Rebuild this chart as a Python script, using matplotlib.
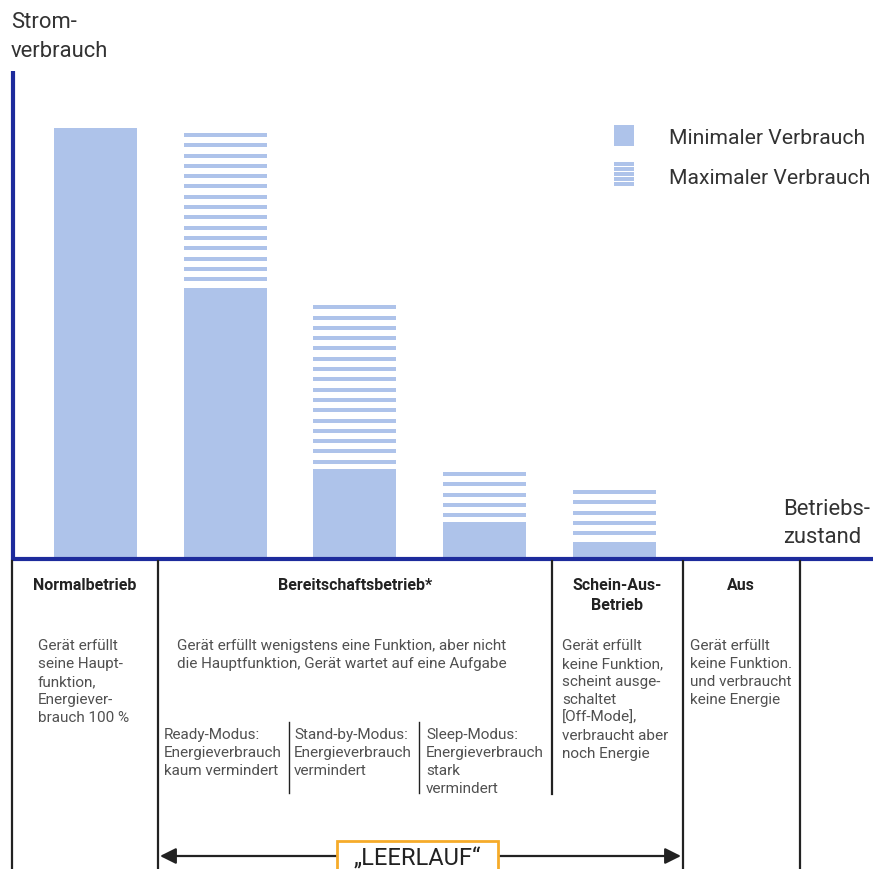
import numpy as np
import matplotlib
matplotlib.use("Agg")
import matplotlib.pyplot as plt
from matplotlib.patches import Rectangle

plt.rcParams['font.family'] = ['Roboto', 'DejaVu Sans']

# Stromverbrauch je Betriebszustand (0..100 = Hoehe der y-Achse)
states   = ["Normalbetrieb", "Ready-Modus", "Stand-by-Modus", "Sleep-Modus", "Schein-Aus"]
min_use  = [88.3, 55.5, 18.4, 7.6, 3.5]
max_use  = [88.3, 87.3, 52.0, 17.8, 14.1]

legend_labels = ["Minimaler Verbrauch", "Maximaler Verbrauch"]

headers = ["Normalbetrieb", "Bereitschaftsbetrieb*", "Schein-Aus-\nBetrieb", "Aus"]
descriptions = [
    "Gerät erfüllt\nseine Haupt-\nfunktion,\nEnergiever-\nbrauch 100 %",
    "Gerät erfüllt wenigstens eine Funktion, aber nicht\ndie Hauptfunktion, Gerät wartet auf eine Aufgabe",
    "Gerät erfüllt\nkeine Funktion,\nscheint ausge-\nschaltet\n[Off-Mode],\nverbraucht aber\nnoch Energie",
    "Gerät erfüllt\nkeine Funktion.\nund verbraucht\nkeine Energie",
]
sub_modes = [
    "Ready-Modus:\nEnergieverbrauch\nkaum vermindert",
    "Stand-by-Modus:\nEnergieverbrauch\nvermindert",
    "Sleep-Modus:\nEnergieverbrauch\nstark\nvermindert",
]

BAR = "#aec3ea"
AXBLUE = "#1d2b9c"
DARK = "#222222"
GREY = "#505050"
ORANGE = "#f6ab2a"

W, H = 873, 870
fig = plt.figure(figsize=(W / 100, H / 100), dpi=100)

# Chart axes (pixel layout: x from 12 to 873, y from 560 up to 72)
bar_step = 129.7
bar_x0 = 95.5
ax = fig.add_axes([12 / W, (H - 560) / H, (W - 12) / W, 488 / H])
ax.set_xlim((12 - bar_x0) / bar_step, (W - bar_x0) / bar_step)
ax.set_ylim(0, 100)
ax.axis("off")

x = np.arange(len(states))
width = 83 / bar_step
ax.bar(x, min_use, width=width, color=BAR, linewidth=0)

# stripes for the maximal consumption
pitch = 10.3 / 4.88
thick = 4.0 / 4.88
for xi, lo, hi in zip(x, min_use, max_use):
    tops = np.arange(hi, lo, -pitch)
    tops = tops[tops - thick > lo + 0.3]
    ax.bar(np.full(len(tops), xi), np.full(len(tops), thick), bottom=tops - thick,
           width=width, color=BAR, linewidth=0)

# Overlay in pixel coordinates
ov = fig.add_axes([0, 0, 1, 1], zorder=5)
ov.set_xlim(0, W)
ov.set_ylim(H, 0)
ov.axis("off")
ov.patch.set_alpha(0)


def lines_text(x0, y0, txt, step=18, **kw):
    # one text per line, on baselines, so the line pitch stays even
    for i, line in enumerate(txt.split("\n")):
        ov.text(x0, y0 + i * step, line, va="baseline", **kw)


# axes lines
ov.plot([13, 13], [72, 561], color=AXBLUE, lw=3.0, solid_capstyle="butt")
ov.plot([12, W], [560, 560], color=AXBLUE, lw=3.0, solid_capstyle="butt")

lines_text(11, 28, "Strom-\nverbrauch", step=29, fontsize=15.8, color="#333333", ha="left")
lines_text(783, 515, "Betriebs-\nzustand", step=28, fontsize=15.8, color="#333333", ha="left")

# legend
ov.add_patch(Rectangle((614, 126), 20, 21, color=BAR, lw=0))
for k in range(5):
    ov.add_patch(Rectangle((614, 163 + k * 5), 20, 3.8, color=BAR, lw=0))
ov.text(669, 138, legend_labels[0], fontsize=15.2, color="#333333", va="center", ha="left")
ov.text(669, 179, legend_labels[1], fontsize=15.2, color="#333333", va="center", ha="left")

# table lines
for xl in [12, 158, 683, 800]:
    ov.plot([xl, xl], [562, H], color=DARK, lw=1.6)
ov.plot([552, 552], [562, 795], color=DARK, lw=1.6)
for xl in [289, 419]:
    ov.plot([xl, xl], [723, 794], color=DARK, lw=1.0)

# headers
header_x = [85, 355, 617, 741]
for hx, txt in zip(header_x, headers):
    lines_text(hx, 590, txt, step=20, fontsize=11.5, fontweight="bold", color=DARK, ha="center")

desc_x = [38, 177, 562, 690]
for dx, txt in zip(desc_x, descriptions):
    lines_text(dx, 650, txt, fontsize=11, color=GREY, ha="left")

sub_x = [164, 294, 426]
for sx, txt in zip(sub_x, sub_modes):
    lines_text(sx, 739, txt, fontsize=11, color=GREY, ha="left")

# LEERLAUF arrow
ov.annotate("", xy=(160, 857), xytext=(681, 857),
            arrowprops=dict(arrowstyle="<|-|>", color=DARK, lw=1.6, mutation_scale=24,
                            shrinkA=0, shrinkB=0))
ov.add_patch(Rectangle((337, 842), 161, 40, fc="white", ec=ORANGE, lw=2.0, zorder=3))
ov.text(417.5, 866, "\u201eLEERLAUF\u201c", fontsize=17, color=DARK, ha="center", va="baseline",
        zorder=4)

fig.savefig("out.png", dpi=100)
